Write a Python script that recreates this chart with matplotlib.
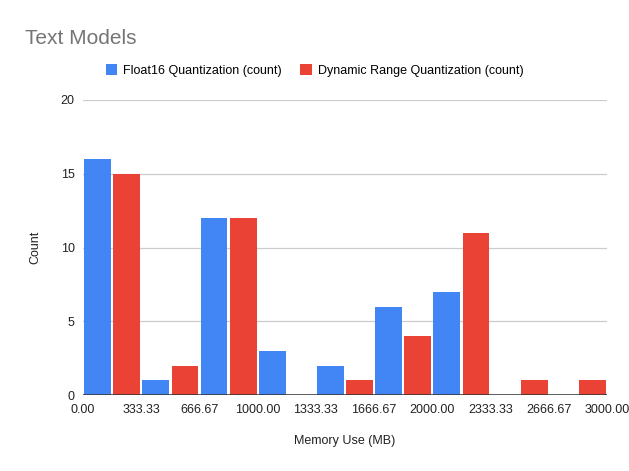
import matplotlib.pyplot as plt
import numpy as np

# histogram bins (MB) and counts per bin
bin_edges = np.linspace(0, 3000, 10)
float16_counts = [16, 1, 12, 3, 2, 6, 7, 0, 0]
dynamic_counts = [15, 2, 12, 0, 1, 4, 11, 1, 1]
series_names = ["Float16 Quantization (count)", "Dynamic Range Quantization (count)"]

blue = "#4285F4"
red = "#EA4335"

plt.rcParams["font.family"] = ["Liberation Sans", "DejaVu Sans"]

fig = plt.figure(figsize=(6.29, 4.71), dpi=100)
ax = fig.add_axes([0.132, 0.161, 0.833, 0.627])

bin_w = bin_edges[1] - bin_edges[0]
half = bin_w / 2
left = bin_edges[:-1]
ax.bar(left + half * 0.5, float16_counts, width=half * 0.92, color=blue,
       label=series_names[0], zorder=3)
ax.bar(left + half * 1.5, dynamic_counts, width=half * 0.92, color=red,
       label=series_names[1], zorder=3)

ax.set_xlim(0, 3000)
ax.set_ylim(0, 20)
ax.set_xticks(bin_edges)
ax.set_xticklabels([f"{v:.2f}" for v in bin_edges])
ax.set_yticks([0, 5, 10, 15, 20])
ax.grid(axis="y", color="#cccccc", linewidth=0.9, zorder=0)
ax.axhline(0, color="#333333", linewidth=1.1, zorder=4)
for s in ax.spines.values():
    s.set_visible(False)
ax.tick_params(length=0, labelsize=9, colors="#222222")
ax.tick_params(axis="y", pad=6)
ax.tick_params(axis="x", pad=6)

ax.set_xlabel("Memory Use (MB)", fontsize=9, color="#222222", labelpad=14)
ax.set_ylabel("Count", fontsize=9, color="#222222", labelpad=14)

fig.text(0.04, 0.907, "Text Models", fontsize=15, color="#757575", va="baseline")
fig.legend(loc="center", bbox_to_anchor=(0.5, 0.851), ncol=2, frameon=False,
           fontsize=9, handlelength=0.95, handleheight=0.95, handletextpad=0.45,
           columnspacing=1.5)

fig.savefig("out.png", dpi=100)
